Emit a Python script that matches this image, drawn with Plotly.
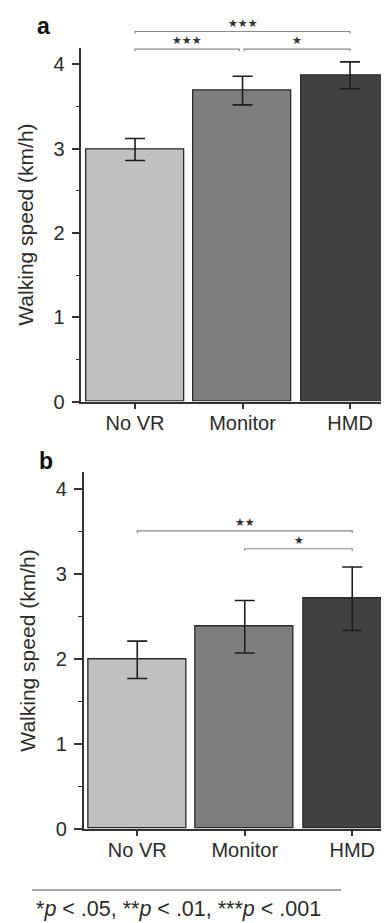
import plotly.graph_objects as go

# ---------------- data ----------------
categories = ["No VR", "Monitor", "HMD"]
speed_a = [2.99, 3.69, 3.87]
err_a = [0.13, 0.17, 0.16]
speed_b = [1.99, 2.38, 2.71]
err_b = [0.22, 0.31, 0.375]
bar_colors = ["#c0c0c0", "#7e7e7e", "#414141"]
y_ticks = [0, 1, 2, 3, 4]
y_max = 4.2

# significance brackets: (start idx, end idx, level in km/h, label)
sig_a = [(0, 2, 4.39, "★★★"), (0, 0.97, 4.18, "★★★"), (1.015, 2, 4.18, "★")]
sig_b = [(0, 2, 3.51, "★★"), (1.0, 2, 3.30, "★")]
footnote = "*<i>p</i> < .05, **<i>p</i> < .01, ***<i>p</i> < .001"

W, H = 389, 923
FONT = "Liberation Sans, Arial, sans-serif"
TXT = "#2b2b2b"

fig = go.Figure()

def add_panel(vals, errs, xa, ya):
    fig.add_trace(go.Bar(
        x=list(range(len(categories))), y=vals,
        width=0.91,
        marker=dict(color=bar_colors, line=dict(color="#2a2a2a", width=1.3)),
        error_y=dict(type="data", array=errs, visible=True,
                     color="#1e1e1e", thickness=1.6, width=10),
        xaxis=xa, yaxis=ya, showlegend=False, hoverinfo="skip"))

add_panel(speed_a, err_a, "x", "y")
add_panel(speed_b, err_b, "x2", "y2")

def px_x(p):
    return p / W

def px_y(p):
    return 1 - p / H

axis_common = dict(showline=True, linecolor="#333333", linewidth=1.5,
                   showgrid=False, zeroline=False, ticks="outside",
                   tickcolor="#333333", tickwidth=1.5)

xtick_font = dict(family=FONT, size=20, color=TXT)
ytick_font = dict(family=FONT, size=20, color=TXT)
title_font = dict(family=FONT, size=21, color=TXT)

xa_l, xb_l = 73.3, 75.5
cat_px = 107.5

def yaxis_cfg(dom):
    return dict(domain=dom, range=[0, y_max], tickvals=y_ticks, ticklen=8,
                tickfont=ytick_font, ticklabelstandoff=3,
                minor=dict(dtick=0.5, ticklen=4, ticks="outside",
                           tickcolor="#333333", tickwidth=1.3),
                title=dict(text="Walking speed (km/h)", standoff=14, font=title_font),
                **axis_common)

def xaxis_cfg(left):
    return dict(domain=[px_x(left), 1],
                range=[-0.5, -0.5 + (W - left) / cat_px],
                tickvals=list(range(3)), ticktext=categories, ticklen=6,
                tickfont=xtick_font, ticklabelstandoff=-3, **axis_common)

fig.update_layout(
    width=W, height=H,
    margin=dict(l=0, r=0, t=0, b=0),
    paper_bgcolor="white", plot_bgcolor="white",
    bargap=0,
    xaxis=dict(anchor="y", **xaxis_cfg(xa_l)),
    yaxis=dict(anchor="x", **yaxis_cfg([px_y(398.3), px_y(40)])),
    xaxis2=dict(anchor="y2", **xaxis_cfg(xb_l)),
    yaxis2=dict(anchor="x2", **yaxis_cfg([px_y(830.5), px_y(470)])),
)

def add_brackets(sigs, xref, yref_dom, dom_px_h):
    tick = 2.0 / dom_px_h
    for x0, x1, lvl, lab in sigs:
        yd = lvl / y_max
        fig.add_shape(type="path", xref=xref, yref=yref_dom,
                      path=f"M {x0},{yd - tick} L {x0},{yd} L {x1},{yd} L {x1},{yd - tick}",
                      line=dict(color="#8a8a8a", width=1.2))
        fig.add_annotation(x=(x0 + x1) / 2, y=yd, xref=xref, yref=yref_dom,
                           text=lab, showarrow=False, xanchor="center",
                           yanchor="bottom", yshift=0,
                           font=dict(family="DejaVu Sans", size=11, color="#333333"))

add_brackets(sig_a, "x", "y domain", 358.3)
add_brackets(sig_b, "x2", "y2 domain", 360.5)

# panel letters
for lab, xp, yp in [("a", 35, 18), ("b", 38, 458)]:
    fig.add_annotation(x=px_x(xp), y=px_y(yp), xref="paper", yref="paper",
                       text=f"<b>{lab}</b>", showarrow=False,
                       xanchor="center", yanchor="middle",
                       font=dict(family=FONT, size=23, color="#111"))

# footnote
fig.add_shape(type="line", xref="paper", yref="paper",
              x0=px_x(24), x1=px_x(333), y0=px_y(892.7), y1=px_y(892.7),
              line=dict(color="#8a8a8a", width=1.5))
fig.add_annotation(x=px_x(26), y=px_y(911.5), xref="paper", yref="paper", text=footnote,
                   showarrow=False, xanchor="left", yanchor="middle",
                   font=dict(family=FONT, size=21.5, color=TXT))

fig.write_html("out.html")
